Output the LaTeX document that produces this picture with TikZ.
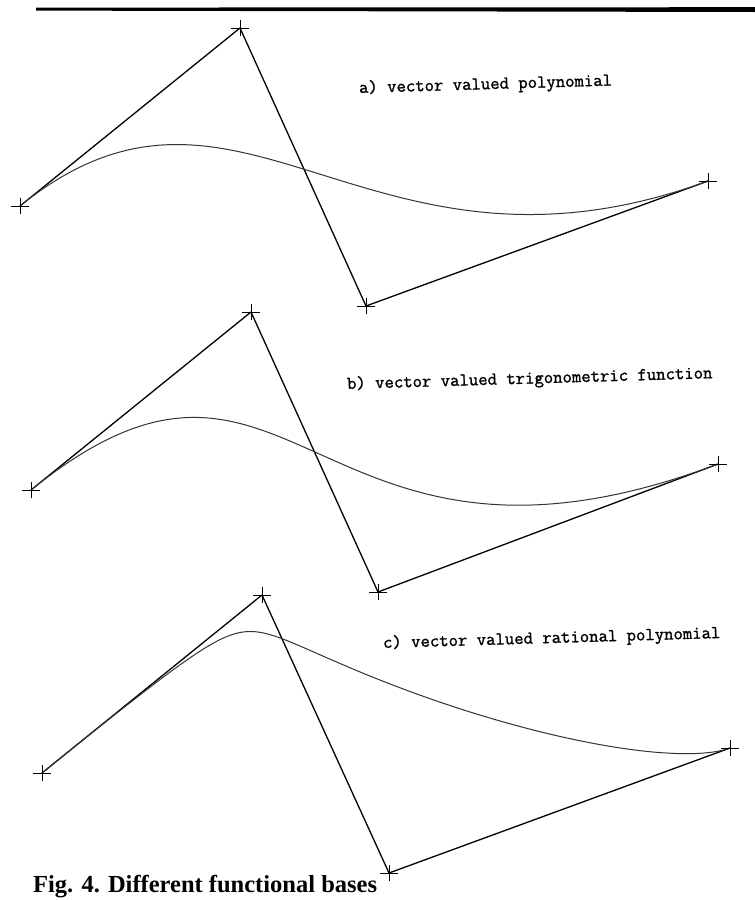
\documentclass[tikz,border=0pt]{standalone}
\usepackage{fontspec}
\setmainfont{Liberation Serif}
\newfontfamily\plotfont[FakeBold=1.3]{Latin Modern Mono}
\usetikzlibrary{calc}
\begin{document}
\begin{tikzpicture}[x=1pt,y=-1pt,
  poly/.style={line width=1.3pt, black, line join=round},
  curve/.style={line width=1pt, black!80},
  crossline/.style={line width=1pt},
  lbl/.style={anchor=base west, inner sep=0pt, font=\plotfont\fontsize{18.2}{20}\selectfont, rotate=1.7},
  cross/.pic={\draw[crossline] (-9,0) -- (9,0) (0,-8) -- (0,8);}
]
\useasboundingbox (0,0) rectangle (755,900);

% top rule
\fill (36,7.6) -- (755,7.2) -- (755,12.0) -- (36,10.6) -- cycle;

% ---------- a) polynomial
\coordinate (a0) at (20,206);
\coordinate (a1) at (240,28);
\coordinate (a2) at (366,306);
\coordinate (a3) at (708,181);
\draw[poly] (a0) -- (a1) -- (a2) -- (a3);
\draw[curve] (a0) .. controls (a1) and (a2) .. (a3);
\foreach \p in {a0,a1,a2,a3} \pic at (\p) {cross};
\node[lbl] (la) at (359,93) {a) vector valued polynomial};

% ---------- b) trigonometric
\coordinate (b0) at (31,490);
\coordinate (b1) at (251,312);
\coordinate (b2) at (378,592);
\coordinate (b3) at (718,464);
\draw[poly] (b0) -- (b1) -- (b2) -- (b3);
\draw[curve] (b0) .. controls ($(b0)!1.2!(b1)$) and ($(b3)!1.2!(b2)$) .. (b3);
\foreach \p in {b0,b1,b2,b3} \pic at (\p) {cross};
\node[lbl] (lb) at (347,389) {b) vector valued trigonometric function};

% ---------- c) rational
\coordinate (c0) at (42,773);
\coordinate (c1) at (262,595);
\coordinate (c2) at (389,873);
\coordinate (c3) at (730,748);
\draw[poly] (c0) -- (c1) -- (c2) -- (c3);
\draw[curve] plot[domain=0:1, samples=120, variable=\t, smooth]
  ({(42*(1-\t)^3 + 5*262*3*\t*(1-\t)^2 + 0.65*389*3*\t^2*(1-\t) + 730*\t^3)/((1-\t)^3 + 5*3*\t*(1-\t)^2 + 0.65*3*\t^2*(1-\t) + \t^3)},
   {(773*(1-\t)^3 + 5*595*3*\t*(1-\t)^2 + 0.65*873*3*\t^2*(1-\t) + 748*\t^3)/((1-\t)^3 + 5*3*\t*(1-\t)^2 + 0.65*3*\t^2*(1-\t) + \t^3)});
\foreach \p in {c0,c1,c2,c3} \pic at (\p) {cross};
\node[lbl] (lc) at (383,648) {c) vector valued rational polynomial};

% caption
\node[anchor=base west, inner sep=0pt, font=\bfseries\fontsize{24.5}{28}\selectfont] (cap) at (33,892) {Fig. 4. Different functional bases};
\end{tikzpicture}
\end{document}
